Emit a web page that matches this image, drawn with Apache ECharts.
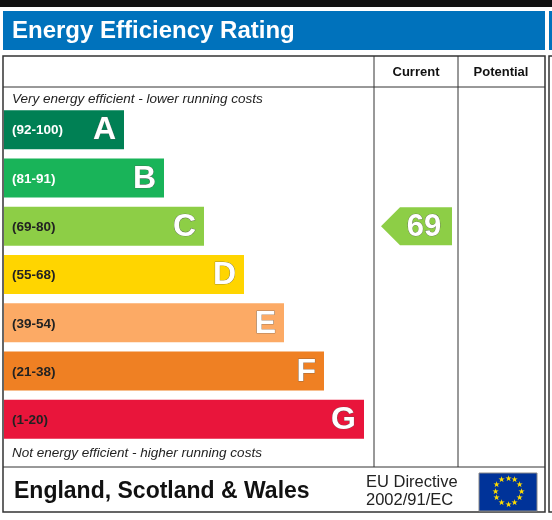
<!DOCTYPE html>
<html><head><meta charset="utf-8">
<script src="https://cdn.jsdelivr.net/npm/echarts@6/dist/echarts.min.js"></script>
<style>html,body{margin:0;padding:0;background:#fff}#c{width:552px;height:520px}</style>
</head><body><div id="c"></div>
<script>
// bands, top (best) to bottom
var letters = ['A', 'B', 'C', 'D', 'E', 'F', 'G'];
var ranges = ['(92-100)', '(81-91)', '(69-80)', '(55-68)', '(39-54)', '(21-38)', '(1-20)'];
var barSteps = [3, 4, 5, 6, 7, 8, 9];
var colors = ['#008054', '#19b459', '#8dce46', '#ffd500', '#fcaa65', '#ef8023', '#e9153b'];
var rangeColors = ['#fff', '#fff', '#222', '#222', '#222', '#222', '#222'];
var currentRating = 69;
var currentBand = 'C';

var myChart = echarts.init(document.getElementById('c'));
var F = 'Liberation Sans, Arial, sans-serif';

// stars of EU flag
var stars = [];
for (var i = 0; i < 12; i++) {
    var a = i * Math.PI / 6;
    stars.push({
        type: 'text', style: {
            text: '★', x: 508 + 13 * Math.sin(a), y: 491.5 - 13 * Math.cos(a),
            fill: '#ffdd00', font: '8px ' + F, align: 'center', verticalAlign: 'middle'
        }
    });
}

var option = {
    animation: false,
    grid: [
        { left: 4, top: 105.5, width: 540, height: 338 },
        { left: 374, top: 105.5, width: 84, height: 338 }
    ],
    xAxis: [
        { gridIndex: 0, type: 'value', min: 0, max: 13.5, show: false },
        { gridIndex: 1, type: 'value', min: 0, max: 84, show: false }
    ],
    yAxis: [
        { gridIndex: 0, type: 'category', data: letters, inverse: true, show: false },
        { gridIndex: 1, type: 'category', data: letters, inverse: true, show: false }
    ],
    graphic: [
        { type: 'rect', shape: { x: 0, y: 0, width: 552, height: 7 }, style: { fill: '#111' } },
        { type: 'rect', shape: { x: 3, y: 11, width: 542, height: 39 }, style: { fill: '#0072bc' } },
        { type: 'rect', shape: { x: 549, y: 11, width: 5, height: 39 }, style: { fill: '#0072bc' } },
        { type: 'text', style: { text: 'Energy Efficiency Rating', x: 12, y: 31, fill: '#fff', font: 'bold 24px ' + F, verticalAlign: 'middle' } },
        { type: 'rect', shape: { x: 3, y: 56, width: 542, height: 456 }, style: { fill: 'none', stroke: '#333', lineWidth: 1.5 } },
        { type: 'rect', shape: { x: 549, y: 56, width: 5, height: 456 }, style: { fill: 'none', stroke: '#333', lineWidth: 1.5 } },
        { type: 'line', shape: { x1: 3, y1: 87, x2: 545, y2: 87 }, style: { stroke: '#333', lineWidth: 1 } },
        { type: 'line', shape: { x1: 3, y1: 467, x2: 545, y2: 467 }, style: { stroke: '#333', lineWidth: 1 } },
        { type: 'line', shape: { x1: 374, y1: 56, x2: 374, y2: 467 }, style: { stroke: '#333', lineWidth: 1 } },
        { type: 'line', shape: { x1: 458, y1: 56, x2: 458, y2: 467 }, style: { stroke: '#333', lineWidth: 1 } },
        { type: 'text', style: { text: 'Current', x: 416, y: 72, fill: '#111', font: 'bold 13px ' + F, align: 'center', verticalAlign: 'middle' } },
        { type: 'text', style: { text: 'Potential', x: 501, y: 72, fill: '#111', font: 'bold 13px ' + F, align: 'center', verticalAlign: 'middle' } },
        { type: 'text', style: { text: 'Very energy efficient - lower running costs', x: 12, y: 99, fill: '#222', font: 'italic 13.5px ' + F, verticalAlign: 'middle' } },
        { type: 'text', style: { text: 'Not energy efficient - higher running costs', x: 12, y: 453, fill: '#222', font: 'italic 13.5px ' + F, verticalAlign: 'middle' } },
        { type: 'text', style: { text: 'England, Scotland & Wales', x: 14, y: 492, fill: '#111', font: 'bold 23px ' + F, verticalAlign: 'middle' } },
        { type: 'text', style: { text: 'EU Directive', x: 366, y: 482, fill: '#222', font: '16.5px ' + F, verticalAlign: 'middle' } },
        { type: 'text', style: { text: '2002/91/EC', x: 366, y: 500, fill: '#222', font: '16.5px ' + F, verticalAlign: 'middle' } },
        { type: 'rect', shape: { x: 479, y: 473, width: 58, height: 38 }, style: { fill: '#003399', stroke: '#888', lineWidth: 1 } }
    ].concat(stars),
    series: [
        {
            type: 'custom', xAxisIndex: 0, yAxisIndex: 0,
            data: letters.map(function (l, i) { return [barSteps[i], l, i]; }),
            renderItem: function (params, api) {
                var i = api.value(2);
                var p0 = api.coord([0, api.value(1)]);
                var p1 = api.coord([api.value(0), api.value(1)]);
                var h = 39;
                return {
                    type: 'group', children: [
                        { type: 'rect', shape: { x: p0[0], y: p0[1] - h / 2, width: p1[0] - p0[0], height: h }, style: { fill: colors[i] } },
                        { type: 'text', style: { text: ranges[i], x: p0[0] + 8, y: p0[1] + 1, fill: rangeColors[i], font: 'bold 13.5px ' + F, verticalAlign: 'middle' } },
                        { type: 'text', style: { text: letters[i], x: p1[0] - 8, y: p0[1] + 1, fill: '#fff', stroke: '#555', lineWidth: 0.6, font: 'bold 32px ' + F, align: 'right', verticalAlign: 'middle' } }
                    ]
                };
            }
        },
        {
            type: 'custom', xAxisIndex: 1, yAxisIndex: 1,
            data: [[currentRating, currentBand]],
            renderItem: function (params, api) {
                var c = api.coord([0, api.value(1)]);
                var x0 = c[0] + 7, x1 = c[0] + 78, y = c[1], h = 38;
                var band = api.value(1);
                if (typeof band !== 'number') band = letters.indexOf(band);
                return {
                    type: 'group', children: [
                        { type: 'polygon', shape: { points: [[x0, y], [x0 + 19, y - h / 2], [x1, y - h / 2], [x1, y + h / 2], [x0 + 19, y + h / 2]] }, style: { fill: colors[band] } },
                        { type: 'text', style: { text: String(api.value(0)), x: x0 + 43, y: y + 1, fill: '#fff', stroke: '#555', lineWidth: 0.6, font: 'bold 31px ' + F, align: 'center', verticalAlign: 'middle' } }
                    ]
                };
            }
        }
    ]
};

myChart.setOption(option);
</script>
</body></html>
